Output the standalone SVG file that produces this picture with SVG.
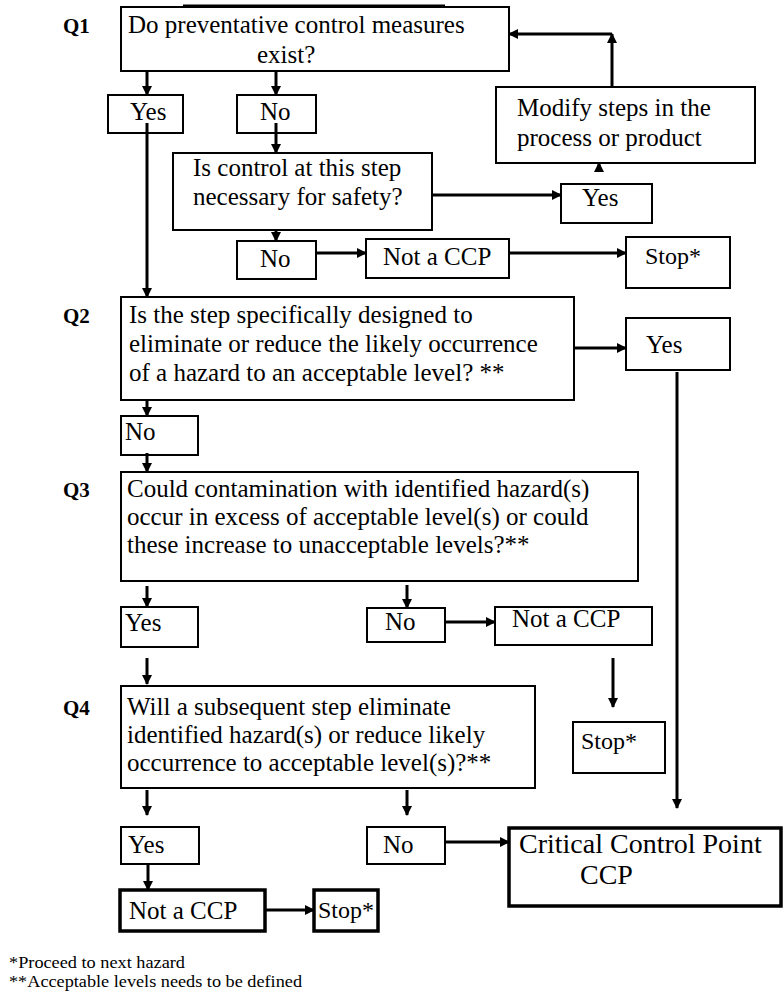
<svg xmlns="http://www.w3.org/2000/svg" width="784" height="994" viewBox="0 0 784 994">
  <style>
    .box { fill: #fff; stroke: #000; stroke-width: 2; }
    .thick { fill: #fff; stroke: #000; stroke-width: 3.5; }
    .t { font-family: "Liberation Serif", "Times New Roman", serif; font-size: 25px; fill: #000; }
    .stop { font-family: "Liberation Serif", "Times New Roman", serif; font-size: 24px; fill: #000; }
    .big { font-family: "Liberation Serif", "Times New Roman", serif; font-size: 28px; fill: #000; }
    .q { font-family: "Liberation Serif", "Times New Roman", serif; font-size: 21px; font-weight: bold; fill: #000; }
    .note { font-family: "Liberation Serif", "Times New Roman", serif; font-size: 16px; fill: #000; }
    .c { fill: none; stroke: #000; stroke-width: 3; }
  </style>
  <defs>
    <marker id="arrow" markerUnits="userSpaceOnUse" markerWidth="11" markerHeight="11" refX="9" refY="5" orient="auto">
      <path d="M0,0 L10,5 L0,10 z" fill="#000"/>
    </marker>
  </defs>
  <rect width="784" height="994" fill="#fff"/>

  <!-- question labels -->
  <g id="labels">
    <text class="q" x="63" y="33">Q1</text>
    <text class="q" x="63" y="323">Q2</text>
    <text class="q" x="63" y="497">Q3</text>
    <text class="q" x="63" y="715">Q4</text>
  </g>

  <!-- Q1 -->
  <g id="q1">
    <rect class="box" x="121" y="7" width="388" height="64"/>
    <line x1="183" y1="5.5" x2="445" y2="5.5" stroke="#000" stroke-width="2"/>
    <text class="t" x="128" y="33">Do preventative control measures</text>
    <text class="t" x="257" y="63">exist?</text>
  </g>
  <g id="q1-yes">
    <rect class="box" x="108" y="95" width="75" height="38"/>
    <text class="t" x="130" y="120">Yes</text>
  </g>
  <g id="q1-no">
    <rect class="box" x="237" y="95" width="79" height="38"/>
    <text class="t" x="260" y="120">No</text>
  </g>
  <g id="q1b">
    <rect class="box" x="173" y="153" width="259" height="77"/>
    <text class="t" x="193" y="176">Is control at this step</text>
    <text class="t" x="193" y="205">necessary for safety?</text>
  </g>
  <g id="q1b-yes">
    <rect class="box" x="561" y="184" width="91" height="39"/>
    <text class="t" x="582" y="206">Yes</text>
  </g>
  <g id="modify">
    <rect class="box" x="496" y="87" width="259" height="76"/>
    <text class="t" x="517" y="116">Modify steps in the</text>
    <text class="t" x="517" y="146">process or product</text>
  </g>
  <g id="q1b-no">
    <rect class="box" x="237" y="241" width="79" height="38"/>
    <text class="t" x="260" y="267">No</text>
  </g>
  <g id="not-ccp-1">
    <rect class="box" x="366" y="239" width="143" height="39"/>
    <text class="t" x="383" y="265">Not a CCP</text>
  </g>
  <g id="stop-1">
    <rect class="box" x="626" y="237" width="104" height="51"/>
    <text class="stop" x="645" y="264">Stop*</text>
  </g>

  <!-- Q2 -->
  <g id="q2">
    <rect class="box" x="121" y="297" width="453" height="103"/>
    <text class="t" x="129" y="323">Is the step specifically designed to</text>
    <text class="t" x="129" y="352">eliminate or reduce the likely occurrence</text>
    <text class="t" x="129" y="381">of a hazard to an acceptable level? **</text>
  </g>
  <g id="q2-yes">
    <rect class="box" x="626" y="318" width="104" height="52"/>
    <text class="t" x="646" y="353">Yes</text>
  </g>
  <g id="q2-no">
    <rect class="box" x="121" y="416" width="77" height="39"/>
    <text class="t" x="125" y="440">No</text>
  </g>

  <!-- Q3 -->
  <g id="q3">
    <rect class="box" x="121" y="472" width="517" height="109"/>
    <text class="t" x="127" y="497">Could contamination with identified hazard(s)</text>
    <text class="t" x="127" y="525">occur in excess of acceptable level(s) or could</text>
    <text class="t" x="127" y="553">these increase to unacceptable levels?**</text>
  </g>
  <g id="q3-yes">
    <rect class="box" x="121" y="607" width="77" height="40"/>
    <text class="t" x="125" y="631">Yes</text>
  </g>
  <g id="q3-no">
    <rect class="box" x="367" y="608" width="78" height="34"/>
    <text class="t" x="385" y="630">No</text>
  </g>
  <g id="not-ccp-2">
    <rect class="box" x="495" y="607" width="157" height="38"/>
    <text class="t" x="512" y="627">Not a CCP</text>
  </g>
  <g id="stop-2">
    <rect class="box" x="573" y="722" width="92" height="51"/>
    <text class="stop" x="581" y="749">Stop*</text>
  </g>

  <!-- Q4 -->
  <g id="q4">
    <rect class="box" x="121" y="686" width="414" height="102"/>
    <text class="t" x="127" y="715">Will a subsequent step eliminate</text>
    <text class="t" x="127" y="743">identified hazard(s) or reduce likely</text>
    <text class="t" x="127" y="771">occurrence to acceptable level(s)?**</text>
  </g>
  <g id="q4-yes">
    <rect class="box" x="121" y="827" width="78" height="37"/>
    <text class="t" x="128" y="853">Yes</text>
  </g>
  <g id="q4-no">
    <rect class="box" x="367" y="827" width="78" height="37"/>
    <text class="t" x="383" y="853">No</text>
  </g>
  <g id="ccp">
    <rect class="thick" x="509" y="828" width="272" height="78"/>
    <text class="big" x="519" y="853">Critical Control Point</text>
    <text class="big" x="580" y="884">CCP</text>
  </g>
  <g id="not-ccp-3">
    <rect class="thick" x="120" y="890" width="145" height="41"/>
    <text class="t" x="129" y="919">Not a CCP</text>
  </g>
  <g id="stop-3">
    <rect class="thick" x="314" y="890" width="64" height="41"/>
    <text class="stop" x="318" y="918">Stop*</text>
  </g>

  <!-- connectors -->
  <g id="connectors" class="c" marker-end="url(#arrow)">
    <line x1="147" y1="71" x2="147" y2="95"/>
    <line x1="276" y1="71" x2="276" y2="95"/>
    <line x1="147" y1="123" x2="147" y2="297"/>
    <line x1="276" y1="123" x2="276" y2="153"/>
    <line x1="432" y1="195" x2="561" y2="195"/>
    <line x1="599" y1="172" x2="599" y2="163"/>
    <line x1="612" y1="87" x2="612" y2="34"/>
    <line x1="612" y1="34" x2="509" y2="34"/>
    <line x1="276" y1="230" x2="276" y2="241"/>
    <line x1="316" y1="253" x2="366" y2="253"/>
    <line x1="509" y1="253" x2="626" y2="253"/>
    <line x1="574" y1="348" x2="626" y2="348"/>
    <line x1="677" y1="372" x2="677" y2="808"/>
    <line x1="147" y1="400" x2="147" y2="416"/>
    <line x1="147" y1="453" x2="147" y2="472"/>
    <line x1="147" y1="586" x2="147" y2="607"/>
    <line x1="407" y1="585" x2="407" y2="608"/>
    <line x1="445" y1="622" x2="495" y2="622"/>
    <line x1="613" y1="658" x2="613" y2="707"/>
    <line x1="147" y1="658" x2="147" y2="684"/>
    <line x1="147" y1="790" x2="147" y2="815"/>
    <line x1="407" y1="790" x2="407" y2="815"/>
    <line x1="445" y1="842" x2="509" y2="842"/>
    <line x1="148" y1="864" x2="148" y2="890"/>
    <line x1="265" y1="910" x2="314" y2="910"/>
  </g>

  <!-- footnotes -->
  <g id="notes">
    <text class="note" x="9" y="968" textLength="176" lengthAdjust="spacingAndGlyphs">*Proceed to next hazard</text>
    <text class="note" x="9" y="987" textLength="293" lengthAdjust="spacingAndGlyphs">**Acceptable levels needs to be defined</text>
  </g>
</svg>
